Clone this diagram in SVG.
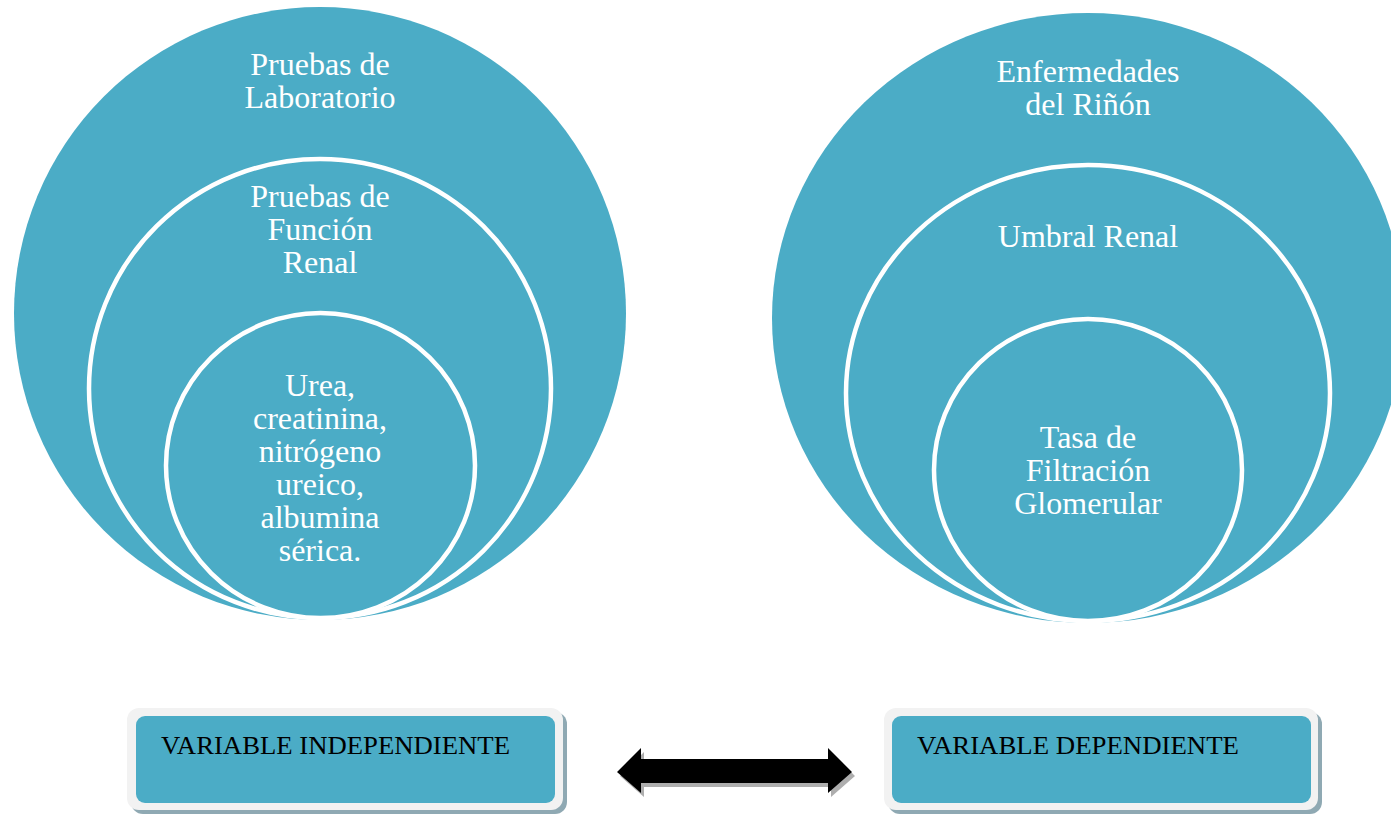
<svg xmlns="http://www.w3.org/2000/svg" width="1391" height="815" viewBox="0 0 1391 815">
<style>
.fill{fill:#4BACC6}
.ring{fill:#4BACC6;stroke:#FFFFFF;stroke-width:4.5}
.t{font-family:"Liberation Serif","Times New Roman",serif;font-size:32px;fill:#FFFFFF;text-anchor:middle}
.bt{font-family:"Liberation Serif","Times New Roman",serif;font-size:25px;fill:#000000}
.frame{fill:#F2F2F2}
.shadow{fill:#8FA9B3}
</style>
<rect width="1391" height="815" fill="#FFFFFF"/>
<g id="left-target">
  <ellipse class="fill" cx="320" cy="313.5" rx="306" ry="306.5"/>
  <ellipse class="ring" cx="320" cy="388.5" rx="231" ry="229.5"/>
  <ellipse class="ring" cx="320.5" cy="465.5" rx="154.5" ry="152.5"/>
</g>
<g id="left-outer-label">
  <text class="t" x="320" y="75">Pruebas de</text>
  <text class="t" x="320" y="108">Laboratorio</text>
</g>
<g id="left-middle-label">
  <text class="t" x="320" y="207">Pruebas de</text>
  <text class="t" x="320" y="240">Función</text>
  <text class="t" x="320" y="273">Renal</text>
</g>
<g id="left-inner-label">
  <text class="t" x="320" y="396">Urea,</text>
  <text class="t" x="320" y="429">creatinina,</text>
  <text class="t" x="320" y="462">nitrógeno</text>
  <text class="t" x="320" y="495">ureico,</text>
  <text class="t" x="320" y="528">albumina</text>
  <text class="t" x="320" y="561">sérica.</text>
</g>
<g id="right-target">
  <ellipse class="fill" cx="1088" cy="318" rx="316" ry="305"/>
  <ellipse class="ring" cx="1088" cy="393" rx="242" ry="228"/>
  <ellipse class="ring" cx="1088" cy="470" rx="154" ry="151"/>
</g>
<g id="right-outer-label">
  <text class="t" x="1088" y="82">Enfermedades</text>
  <text class="t" x="1088" y="115">del Riñón</text>
</g>
<g id="right-middle-label">
  <text class="t" x="1088" y="247">Umbral Renal</text>
</g>
<g id="right-inner-label">
  <text class="t" x="1088" y="448">Tasa de</text>
  <text class="t" x="1088" y="481">Filtración</text>
  <text class="t" x="1088" y="514">Glomerular</text>
</g>
<g id="box-independiente">
  <rect class="shadow" x="131" y="712" width="436" height="102" rx="12"/>
  <rect class="frame" x="127" y="708" width="436" height="102" rx="12"/>
  <rect class="fill" x="136" y="716" width="419" height="87" rx="9"/>
  <text class="bt" x="161" y="754" textLength="349" lengthAdjust="spacingAndGlyphs">VARIABLE INDEPENDIENTE</text>
</g>
<g id="box-dependiente">
  <rect class="shadow" x="888" y="712" width="434" height="102" rx="12"/>
  <rect class="frame" x="884" y="708" width="434" height="102" rx="12"/>
  <rect class="fill" x="892" y="716" width="419" height="87" rx="9"/>
  <text class="bt" x="917" y="754" textLength="322" lengthAdjust="spacingAndGlyphs">VARIABLE DEPENDIENTE</text>
</g>
<g id="connectors">
  <polygon fill="#9A9A9A" opacity="0.8" points="620,776 644,752 644,763 831,763 831,752 855,776 831,797 831,787 644,787 644,797"/>
  <polygon fill="#000000" points="617,772 641,748 641,759 828,759 828,748 852,772 828,793 828,783 641,783 641,793"/>
</g>
</svg>
